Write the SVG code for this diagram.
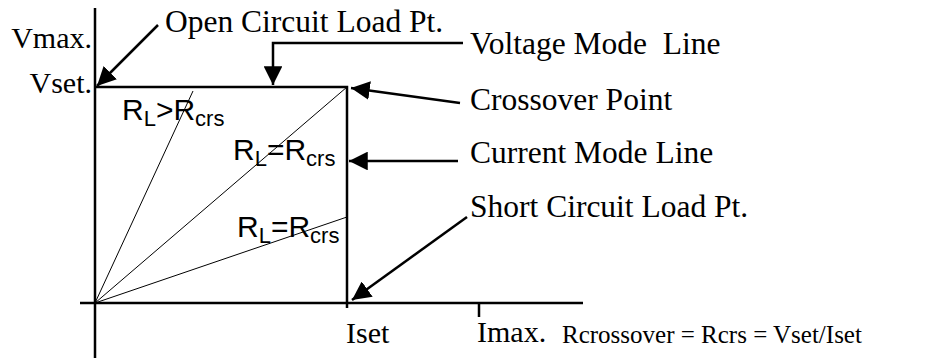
<svg xmlns="http://www.w3.org/2000/svg" width="948" height="358" viewBox="0 0 948 358">
<style>
.t{font-family:"Liberation Serif","Times New Roman",serif;font-size:30px;fill:#000}
.s{font-family:"Liberation Sans",Arial,sans-serif;font-size:30px;fill:#000}
.sub{font-size:22px}
.ax{stroke:#000;stroke-width:2.5;fill:none}
.thin{stroke:#000;stroke-width:1;fill:none}
.ld{stroke:#000;stroke-width:2.5;fill:none}
</style>
<defs>
<marker id="ah" viewBox="0 0 10 10" refX="10" refY="5" markerWidth="7.5" markerHeight="7.5" markerUnits="strokeWidth" orient="auto">
<path d="M0,0 L10,5 L0,10 z" fill="#000"/>
</marker>
</defs>
<rect width="948" height="358" fill="#fff"/>
<g id="axes">
<line class="ax" x1="95" y1="8" x2="95" y2="358"/>
<line class="ax" x1="80" y1="303" x2="583" y2="303"/>
<line class="ax" x1="479" y1="303" x2="479" y2="317"/>
</g>
<g id="box">
<polyline class="ax" points="95,87 347,87 347,308"/>
</g>
<g id="loadlines">
<line class="thin" x1="95" y1="303" x2="193" y2="91"/>
<line class="thin" x1="95" y1="303" x2="347" y2="87"/>
<line class="thin" x1="95" y1="303" x2="347" y2="217"/>
</g>
<g id="connectors">
<line class="ld" x1="158" y1="25" x2="97" y2="86" marker-end="url(#ah)"/>
<polyline class="ld" points="463,43 273,43 273,85" marker-end="url(#ah)"/>
<line class="ld" x1="460" y1="103" x2="351" y2="88" marker-end="url(#ah)"/>
<line class="ld" x1="458" y1="161" x2="349" y2="161" marker-end="url(#ah)"/>
<line class="ld" x1="467" y1="217" x2="352" y2="300" marker-end="url(#ah)"/>
</g>
<g id="axis-labels">
<text class="t" x="92" y="48" text-anchor="end">Vmax.</text>
<text class="t" x="92" y="93" text-anchor="end">Vset.</text>
<text class="t" x="346" y="343">Iset</text>
<text class="t" x="477" y="342">Imax.</text>
<text class="t" x="562" y="343" style="font-size:25px">Rcrossover = Rcrs = Vset/Iset</text>
</g>
<g id="open-circuit"><text class="t" x="165" y="32" style="font-size:31.5px">Open Circuit Load Pt.</text></g>
<g id="voltage-mode"><text class="t" x="470" y="54" style="font-size:31.5px" xml:space="preserve">Voltage Mode  Line</text></g>
<g id="crossover"><text class="t" x="470" y="110" style="font-size:31.5px">Crossover Point</text></g>
<g id="current-mode"><text class="t" x="470" y="163" style="font-size:31.5px">Current Mode Line</text></g>
<g id="short-circuit"><text class="t" x="470" y="217" style="font-size:31.5px">Short Circuit Load Pt.</text></g>
<g id="rl-gt"><text class="s" x="122" y="120">R<tspan class="sub" dy="6">L</tspan><tspan dy="-6">&gt;R</tspan><tspan class="sub" dy="6">crs</tspan></text></g>
<g id="rl-eq1"><text class="s" x="233" y="160">R<tspan class="sub" dy="6">L</tspan><tspan dy="-6">=R</tspan><tspan class="sub" dy="6">crs</tspan></text></g>
<g id="rl-eq2"><text class="s" x="237" y="237">R<tspan class="sub" dy="6">L</tspan><tspan dy="-6">=R</tspan><tspan class="sub" dy="6">crs</tspan></text></g>
</svg>
